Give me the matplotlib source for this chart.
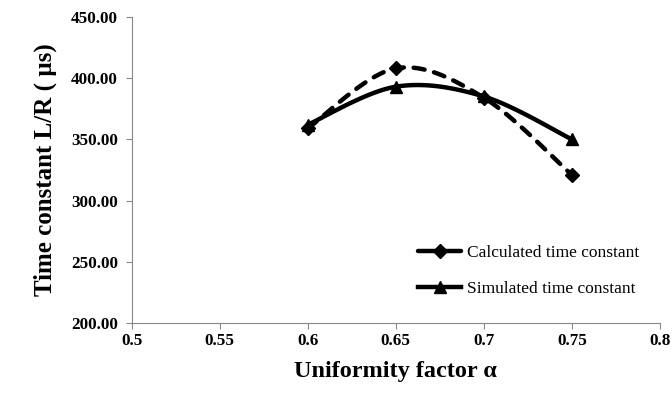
import matplotlib
matplotlib.use('Agg')
import matplotlib.pyplot as plt
import numpy as np

# data
alpha = [0.6, 0.65, 0.7, 0.75]
calculated = [359.0, 408.0, 384.0, 321.0]
simulated = [362.0, 393.0, 385.0, 350.0]
series_names = ['Calculated time constant', 'Simulated time constant']

plt.rcParams['font.family'] = ['Liberation Serif', 'DejaVu Serif']


def smooth(xs, ys, n=40):
    """Excel-like smoothed line (Catmull-Rom as cubic Bezier)."""
    p = np.column_stack([xs, ys]).astype(float)
    pts = np.vstack([p[0], p, p[-1]])
    out = []
    t = np.linspace(0, 1, n)[:, None]
    for i in range(1, len(pts) - 2):
        p0, p1, p2, p3 = pts[i - 1], pts[i], pts[i + 1], pts[i + 2]
        c1 = p1 + (p2 - p0) / 6
        c2 = p2 - (p3 - p1) / 6
        seg = ((1 - t) ** 3) * p1 + 3 * ((1 - t) ** 2) * t * c1 + 3 * (1 - t) * t ** 2 * c2 + t ** 3 * p2
        out.append(seg if i == 1 else seg[1:])
    out = np.vstack(out)
    return out[:, 0], out[:, 1]


fig = plt.figure(figsize=(6.72, 3.93), dpi=100)
ax = fig.add_axes([0.196, 0.178, 0.786, 0.779])

dash = (0, (2.5, 2.2))
cx, cy = smooth(alpha, calculated)
sx, sy = smooth(alpha, simulated)
ax.plot(cx, cy, color='black', lw=3.2, linestyle=dash, dash_capstyle='round')
ax.plot(sx, sy, color='black', lw=3.2, solid_capstyle='round')
ax.plot(alpha, calculated, linestyle='none', marker='D', ms=7, color='black')
ax.plot(alpha, simulated, linestyle='none', marker='^', ms=9, color='black')

# legend proxies
h1, = ax.plot([], [], color='black', lw=3.2, linestyle=(0, (4.3, 1.2)),
              dash_capstyle='round', marker='D', ms=7)
h2, = ax.plot([], [], color='black', lw=3.2, marker='^', ms=9)
ax.legend([h1, h2], series_names, loc='upper left', bbox_to_anchor=(0.542, 0.255),
          frameon=False, fontsize=12.5, handlelength=2.5, handletextpad=0.3,
          labelspacing=1.15, borderpad=0, borderaxespad=0)

ax.set_xlim(0.5, 0.8)
ax.set_ylim(200, 450)
ax.set_xticks([0.5, 0.55, 0.6, 0.65, 0.7, 0.75, 0.8])
ax.set_xticklabels(['0.5', '0.55', '0.6', '0.65', '0.7', '0.75', '0.8'])
ax.set_yticks(np.arange(200, 451, 50))
ax.set_yticklabels([f'{v:.2f}' for v in np.arange(200, 451, 50)])

for lab in ax.get_xticklabels() + ax.get_yticklabels():
    lab.set_fontweight('bold')
    lab.set_fontsize(12.3)

ax.spines['top'].set_visible(False)
ax.spines['right'].set_visible(False)
ax.spines['left'].set_color('#888888')
ax.spines['bottom'].set_color('#888888')
ax.tick_params(axis='both', colors='#888888', labelcolor='black', length=4, direction='out')
ax.tick_params(axis='y', pad=6)

ax.set_xlabel('Uniformity factor α', fontsize=17.5, fontweight='bold', labelpad=8)
ax.set_ylabel('Time constant L/R ( µs)', fontsize=18, fontweight='bold', labelpad=10)

fig.savefig('out.png', dpi=100)
